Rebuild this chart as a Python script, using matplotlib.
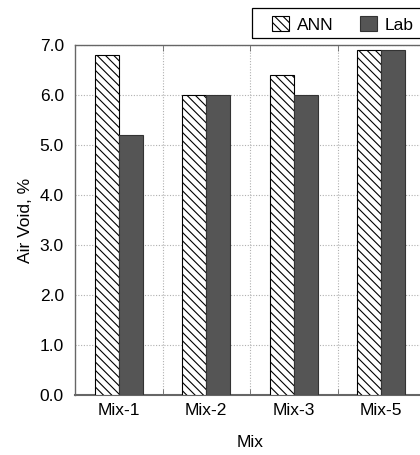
import matplotlib
matplotlib.use("Agg")
import matplotlib.pyplot as plt
import matplotlib.patches as mpatches
import numpy as np

plt.rcParams["font.family"] = ["Liberation Sans", "DejaVu Sans"]
plt.rcParams["hatch.linewidth"] = 0.8

# ── Data ──────────────────────────────────────────────────────────────────────
mixes = ["Mix-1", "Mix-2", "Mix-3", "Mix-5"]
ann = [6.8, 6.0, 6.4, 6.9]
lab = [5.2, 6.0, 6.0, 6.9]
y_ticks = [0.0, 1.0, 2.0, 3.0, 4.0, 5.0, 6.0, 7.0]

DARK = "#555555"
GRID = "#b0b0b0"
FS = 12.5

W, H = 420, 455
fig = plt.figure(figsize=(W / 100, H / 100), dpi=100)
# axes runs slightly past the right edge, as in the reference crop
left, right, top, bottom = 75, 425, 45, 395
ax = fig.add_axes([left / W, 1 - bottom / H, (right - left) / W, (bottom - top) / H])

x = np.arange(len(mixes))
bw = 0.275
ax.bar(x - bw / 2, ann, bw, color="white", edgecolor="black", hatch="\\\\\\\\",
       linewidth=0.8, label="ANN", zorder=3)
ax.bar(x + bw / 2, lab, bw, color=DARK, edgecolor="#333333",
       linewidth=0.8, label="Lab", zorder=3)

ax.set_xlim(-0.5, len(mixes) - 0.5)
ax.set_ylim(0, 7)
ax.set_yticks(y_ticks)
ax.set_yticklabels([f"{v:.1f}" for v in y_ticks], fontsize=FS)
ax.set_xticks(x)
ax.set_xticklabels(mixes, fontsize=FS)
ax.set_xticks(np.arange(len(mixes)) + 0.5, minor=True)

ax.tick_params(axis="x", which="major", length=0, pad=6)
ax.tick_params(axis="x", which="minor", direction="in", length=4, top=True, color="#666666")
ax.tick_params(axis="y", which="major", direction="in", length=0, pad=8)

ax.grid(axis="y", which="major", color=GRID, linestyle=(0, (1, 1.5)), linewidth=0.8, zorder=0)
ax.grid(axis="x", which="minor", color=GRID, linestyle=(0, (1, 1.5)), linewidth=0.8, zorder=0)

for s in ax.spines.values():
    s.set_color("#666666")
    s.set_linewidth(1.0)
ax.spines["bottom"].set_linewidth(1.5)

ax.set_ylabel("Air Void, %", fontsize=FS, labelpad=5)
ax.set_xlabel("Mix", fontsize=FS, labelpad=12)

# legend entries without frame; the box is drawn separately so it starts where the reference's does
leg = fig.legend(loc="upper left", bbox_to_anchor=(265 / W, 1 - 9 / H), ncol=2,
                 fontsize=FS, frameon=False,
                 handlelength=1.0, handleheight=1.0, columnspacing=1.5,
                 borderpad=0.4, handletextpad=0.45, borderaxespad=0)
box = mpatches.Rectangle((252 / W, 1 - 38 / H), 190 / W, 30 / H,
                         transform=fig.transFigure, fill=False,
                         edgecolor="black", linewidth=0.9)
fig.add_artist(box)

fig.savefig("out.png", dpi=100)
